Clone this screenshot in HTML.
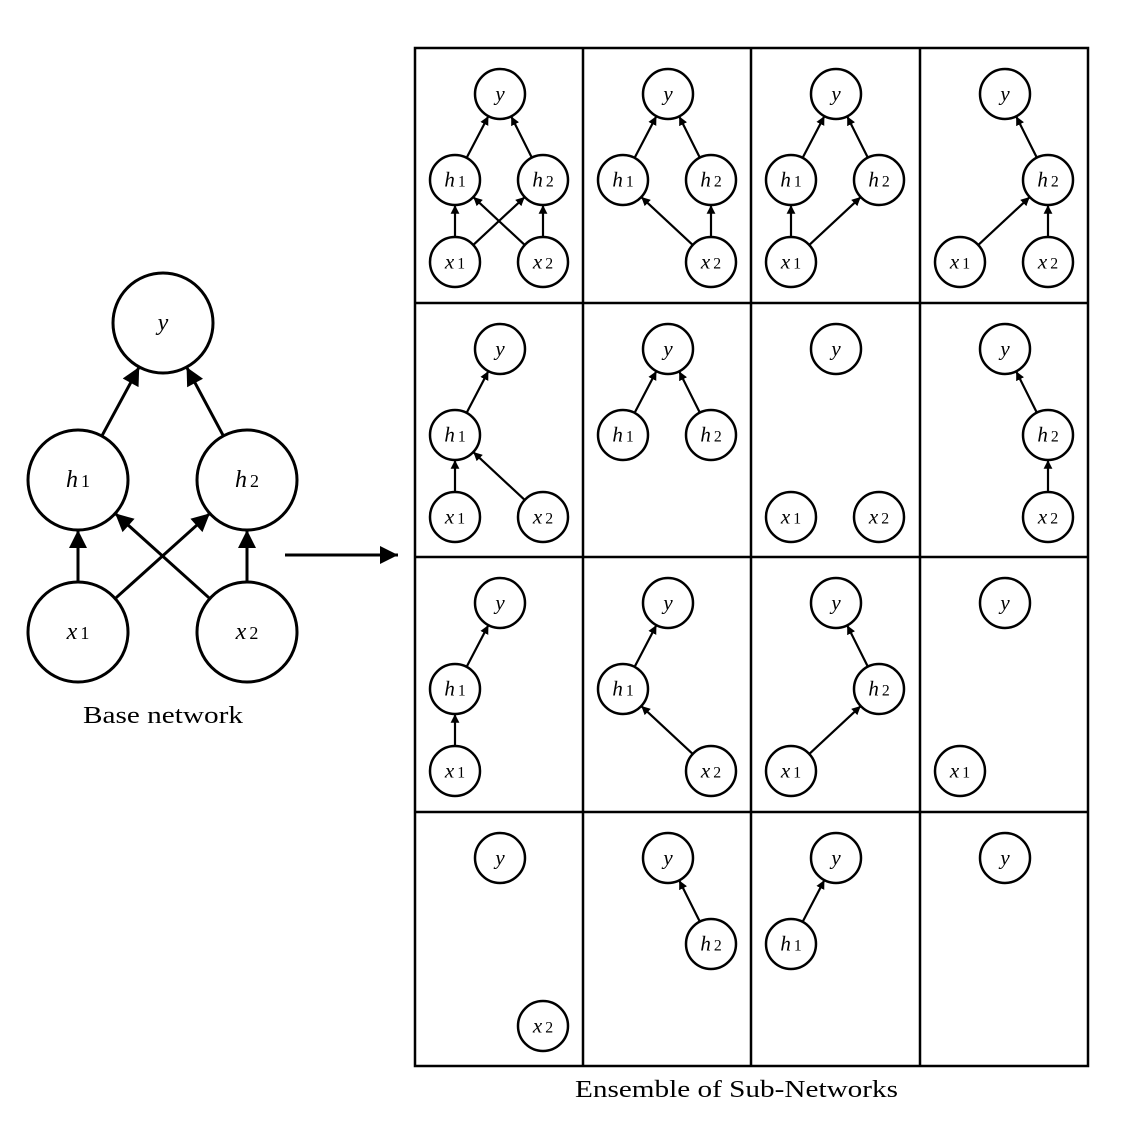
<!DOCTYPE html>
<html><head><meta charset="utf-8"><style>
html,body{margin:0;padding:0;background:#fff;}
svg{display:block;}
text{font-family:"Liberation Serif",serif;font-style:italic;}
</style></head><body>
<svg id="s" width="1145" height="1140" viewBox="0 0 1145 1140" xmlns="http://www.w3.org/2000/svg">
<defs>
<marker id="a" viewBox="0 0 10 10" refX="10" refY="5" markerWidth="4" markerHeight="4" orient="auto" markerUnits="strokeWidth"><path d="M0,0L10,5L0,10z" fill="#000"/></marker>
<marker id="b" viewBox="0 0 10 10" refX="10" refY="5" markerWidth="7" markerHeight="6" orient="auto" markerUnits="strokeWidth"><path d="M0,0L10,5L0,10z" fill="#000"/></marker>
</defs>
<g id="g"></g>
<text x="83" y="723" font-size="24" textLength="160" lengthAdjust="spacingAndGlyphs" style="font-style:normal">Base network</text>
<text x="575" y="1097" font-size="24" textLength="323" lengthAdjust="spacingAndGlyphs" style="font-style:normal">Ensemble of Sub-Networks</text>
<line x1="285" y1="555" x2="398" y2="555" stroke="#000" stroke-width="3" marker-end="url(#b)"/>
</svg>
<script>
var g=document.getElementById('g'),h='';
function lab(n){return n=='y'?'y':n[0]+'<tspan font-size="0.75em" dx="3" style="font-style:normal">'+n[1]+'</tspan>';}
function edge(p,q,r,w,m){var dx=q[0]-p[0],dy=q[1]-p[1],d=Math.hypot(dx,dy);
h+='<line x1="'+(p[0]+dx/d*r)+'" y1="'+(p[1]+dy/d*r)+'" x2="'+(q[0]-dx/d*r)+'" y2="'+(q[1]-dy/d*r)+'" stroke="#000" stroke-width="'+w+'" marker-end="url(#'+m+')"/>';}
function node(n,p,r,w,fs){h+='<circle cx="'+p[0]+'" cy="'+p[1]+'" r="'+r+'" fill="#fff" stroke="#000" stroke-width="'+w+'"/><text x="'+p[0]+'" y="'+(p[1]+fs*0.3)+'" font-size="'+fs+'" text-anchor="middle">'+lab(n)+'</text>';}
var B={y:[163,323],h1:[78,480],h2:[247,480],x1:[78,632],x2:[247,632]};
[['x1','h1'],['x1','h2'],['x2','h1'],['x2','h2'],['h1','y'],['h2','y']].forEach(function(e){edge(B[e[0]],B[e[1]],50,3,'b');});
for(var k in B)node(k,B[k],50,3,24);
var cx=[415,583,751,920],cy=[48,303,557,812];
var P={y:[85,46],h1:[40,132],h2:[128,132],x1:[40,214],x2:[128,214]};
var cells=[
['y h1 h2 x1 x2','x1h1 x1h2 x2h1 x2h2 h1y h2y'],['y h1 h2 x2','x2h1 x2h2 h1y h2y'],['y h1 h2 x1','x1h1 x1h2 h1y h2y'],['y h2 x1 x2','x1h2 x2h2 h2y'],
['y h1 x1 x2','x1h1 x2h1 h1y'],['y h1 h2','h1y h2y'],['y x1 x2',''],['y h2 x2','x2h2 h2y'],
['y h1 x1','x1h1 h1y'],['y h1 x2','x2h1 h1y'],['y h2 x1','x1h2 h2y'],['y x1',''],
['y x2',''],['y h2','h2y'],['y h1','h1y'],['y','']];
cells.forEach(function(c,i){var ox=cx[i%4],oy=cy[Math.floor(i/4)];
function pt(n){return [ox+P[n][0],oy+P[n][1]];}
c[1].split(' ').filter(Boolean).forEach(function(e){var a=e.slice(0,2),b=e.slice(2);edge(pt(a),pt(b),25,2.2,'a');});
c[0].split(' ').forEach(function(n){node(n,pt(n),25,2.5,21);});});
h+='<rect x="415" y="48" width="673" height="1018" fill="none" stroke="#000" stroke-width="2.5"/>';
[583,751,920].forEach(function(x){h+='<line x1="'+x+'" y1="48" x2="'+x+'" y2="1066" stroke="#000" stroke-width="2.5"/>';});
[303,557,812].forEach(function(y){h+='<line x1="415" y1="'+y+'" x2="1088" y2="'+y+'" stroke="#000" stroke-width="2.5"/>';});
g.innerHTML=h;
</script>
</body></html>
